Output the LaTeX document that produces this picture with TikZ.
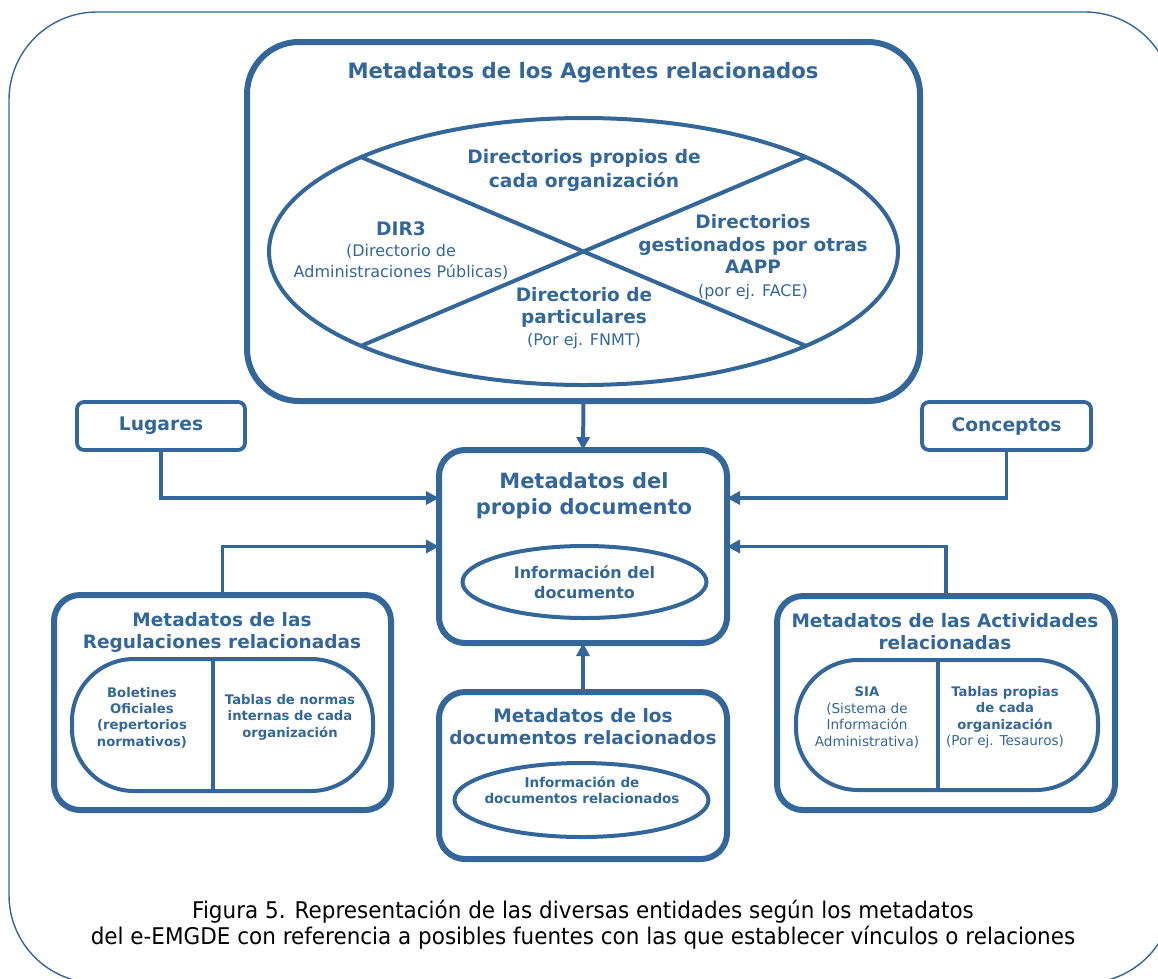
\documentclass[tikz,border=0pt]{standalone}
\usepackage{fontspec}
\setmainfont{DejaVu Sans}
\newfontfamily\capfont{DejaVu Sans}[FakeStretch=0.935]
\usetikzlibrary{arrows.meta,shapes.geometric,calc}
\definecolor{eblue}{RGB}{52,103,153}
\newcommand{\fsz}[2]{\fontsize{#1}{#2}\selectfont}
\begin{document}
\begin{tikzpicture}[x=1pt,y=-1pt,
  every node/.style={text=eblue,inner sep=0pt,outer sep=0pt},
  bigbox/.style={rectangle,draw=eblue,line width=6pt},
  smallbox/.style={rectangle,draw=eblue,line width=3.8pt,rounded corners=7pt,
     font=\bfseries\fsz{18.7}{22}},
  ell/.style={ellipse,draw=eblue,line width=4pt},
  pill/.style={rectangle,draw=eblue,line width=4pt,rounded corners=62pt},
  divl/.style={draw=eblue,line width=4pt},
  conn/.style={draw=eblue,line width=3.3pt,-{Triangle[length=13pt,width=13pt]}},
  ttl/.style={font=\bfseries\fsz{18.5}{22},align=center},
  sub/.style={font=\fsz{13.6}{16.4},align=center},
  bsub/.style={font=\bfseries\fsz{13.2}{16.4},align=center}]
\useasboundingbox (0,0) rectangle (1158,978);
\begin{scope}
  \clip (0,0) rectangle (1158,978);
  \draw[eblue,line width=1.4pt,rounded corners=88pt] (9,12) rectangle (1173,983);
\end{scope}

% Agents box
\node[bigbox,rounded corners=52pt,minimum width=673pt,minimum height=359pt] (ag) at (583.5,221.5) {};
\node[font=\bfseries\fsz{21.2}{24}] (agt) at (583,73) {Metadatos de los Agentes relacionados};
\node[ell,minimum width=629pt,minimum height=267pt] (agell) at (583.5,251.5) {};
\draw[divl] ($(agell.center)+(-222.4,-94.4)$) -- ($(agell.center)+(222.4,94.4)$);
\draw[divl] ($(agell.center)+(-222.4,94.4)$) -- ($(agell.center)+(222.4,-94.4)$);
\node[align=center,font=\bfseries\fsz{18.6}{24}] (dpo) at (584,170) {Directorios propios de\\cada organización};
\node[align=center,font=\fsz{16}{21}] (dir3) at (401,251) {{\bfseries\fsz{18.6}{21}DIR3}\\(Directorio de\\Administraciones Públicas)};
\node[align=center,font=\bfseries\fsz{18.5}{22.5}] (dgo) at (753,257) {Directorios\\gestionados por otras\\AAPP\\{\mdseries\fsz{16}{22.5}(por ej. FACE)}};
\node[align=center,font=\bfseries\fsz{18.5}{22}] (dpa) at (584,318) {Directorio de\\particulares\\{\mdseries\fsz{16}{22}(Por ej. FNMT)}};

% Propio documento
\node[bigbox,rounded corners=26pt,minimum width=288pt,minimum height=193pt] (prop) at (583,546.5) {};
\node[align=center,font=\bfseries\fsz{21}{26}] (propt) at (584,496) {Metadatos del\\propio documento};
\node[ell,minimum width=244pt,minimum height=72pt,align=center,font=\bfseries\fsz{16}{19.5}] (info) at (584.5,582) {Información del\\documento};

% Documentos relacionados
\node[bigbox,rounded corners=26pt,minimum width=288pt,minimum height=167pt] (drel) at (583,775.5) {};
\node[ttl] (drelt) at (583,726.5) {Metadatos de los\\documentos relacionados};
\node[ell,minimum width=254pt,minimum height=74pt] (dell) at (581.5,800) {};
\node[bsub,font=\bfseries\fsz{13.5}{16}] (dellt) at (582,790) {Información de\\documentos relacionados};

% Regulaciones
\node[bigbox,rounded corners=26pt,minimum width=337pt,minimum height=215pt] (regs) at (222.5,702.5) {};
\node[ttl] (regst) at (222,632) {Metadatos de las\\Regulaciones relacionadas};
\node[pill,minimum width=301pt,minimum height=132pt] (rpill) at (222.5,725) {};
\draw[divl] ($(rpill.north west)!0.468!(rpill.north east)$) -- ($(rpill.south west)!0.468!(rpill.south east)$);
\node[bsub] (bol) at (142,717.5) {Boletines\\Oficiales\\(repertorios\\normativos)};
\node[bsub] (tnor) at (290,717) {Tablas de normas\\internas de cada\\organización};

% Actividades
\node[bigbox,rounded corners=26pt,minimum width=338pt,minimum height=214pt] (act) at (946,703) {};
\node[ttl] (actt) at (945,632) {Metadatos de las Actividades\\relacionadas};
\node[pill,minimum width=302pt,minimum height=130pt] (apill) at (947,725) {};
\draw[divl] ($(apill.north west)!0.47!(apill.north east)$) -- ($(apill.south west)!0.47!(apill.south east)$);
\node[sub] (sia) at (867,717.5) {{\bfseries\fsz{13.2}{16.4}SIA}\\(Sistema de\\Información\\Administrativa)};
\node[sub] (tpro) at (1005,717.5) {{\bfseries\fsz{13.2}{16.4}Tablas propias}\\{\bfseries\fsz{13.2}{16.4}de cada}\\{\bfseries\fsz{13.2}{16.4}organización}\\(Por ej. Tesauros)};

% Lugares / Conceptos
\node[smallbox,minimum width=168pt,minimum height=48pt] (lug) at (161,426) {Lugares};
\node[smallbox,minimum width=169pt,minimum height=48pt] (con) at (1006.5,426) {Conceptos};

% Connectors
\draw[conn,line width=4pt] (ag.south) -- (prop.north);
\draw[conn] (lug.south) |- (prop.west |- 0,498);
\draw[conn] (con.south) |- (prop.east |- 0,498);
\draw[conn] (regs.north) |- (prop.west);
\draw[conn] (act.north) |- (prop.east);
\draw[conn,line width=4pt] (drel.north) -- (prop.south);

% Caption
\node[align=center,text=black,font=\capfont\fsz{23}{26}] (cap) at (583,924.5) {Figura 5. Representación de las diversas entidades según los metadatos\\del e-EMGDE con referencia a posibles fuentes con las que establecer vínculos o relaciones};
\end{tikzpicture}
\end{document}
